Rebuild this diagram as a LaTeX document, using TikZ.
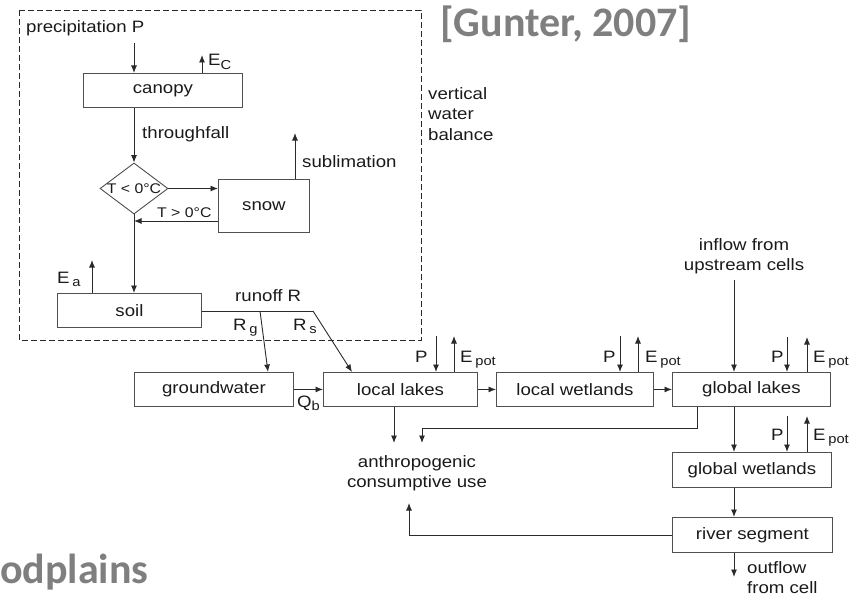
\documentclass[tikz,border=0pt]{standalone}
\usepackage{fontspec}
\setmainfont{Liberation Sans}[FakeStretch=1.13]
\newfontfamily\gfont{Carlito}
\usetikzlibrary{arrows.meta,shapes.geometric}
\definecolor{ln}{HTML}{2A2A2A}
\definecolor{bx}{HTML}{505050}
\definecolor{gr}{HTML}{7F7F7F}
\definecolor{tx}{HTML}{1A1A1A}
\newcommand\sbs[1]{\raisebox{-3.5pt}{\fontsize{13}{13}\selectfont #1}}
\begin{document}
\begin{tikzpicture}[x=1pt,y=-1pt,
  every node/.style={font=\fontsize{16.5}{20.5}\selectfont, text=tx, inner sep=0pt},
  box/.style={draw=bx, line width=0.9pt, anchor=north west, minimum height=34pt},
  arr/.style={draw=ln, line width=0.9pt, -{Latex[length=7.5pt,width=6pt]}},
  plain/.style={draw=ln, line width=0.9pt},
  small/.style={font=\fontsize{14}{14}\selectfont},
  frame/.style={draw=ln, line width=0.9pt, dash pattern=on 6pt off 3pt},
  big/.style={font=\gfont\bfseries\fontsize{42}{42}\selectfont, text=gr}]
\useasboundingbox (0,0) rectangle (860,602);

% dashed frame
\draw[frame] (19,10) rectangle (421,340);

% boxes
\node[box, minimum width=159pt] (canopy) at (83,73) {canopy};
\node[box, minimum width=91pt, minimum height=53pt] (snow) at (218,179) {snow};
\node[box, minimum width=144pt] (soil) at (57,293) {soil};
\node[box, minimum width=159pt] (gw) at (134,372) {groundwater};
\node[box, minimum width=154pt] (lakes) at (323,372) {local lakes};
\node[box, minimum width=157pt] (lwet) at (496,372) {local wetlands};
\node[box, minimum width=158pt] (glakes) at (672,372) {global lakes};
\node[box, minimum width=159pt, minimum height=35pt] (gwet) at (672,452) {global wetlands};
\node[box, minimum width=160pt, minimum height=35pt] (river) at (672,517) {river segment};
\node[draw=bx, line width=0.9pt, diamond, minimum width=68pt, minimum height=51pt, inner sep=0pt] (dia) at (134,188.5) {};
\node[small] (tlt) at (dia.center) {T < 0°C};

% texts
\node[anchor=base west] (prec) at (26,33) {precipitation P};
\node[anchor=base west] (ecl) at (208,66) {E\sbs{C}};
\node[anchor=base west] (tf) at (142,139) {throughfall};
\node[anchor=base west] (subl) at (302,167) {sublimation};
\node[anchor=north west, align=left] (vwb) at (428,87) {vertical\\water\\balance};
\node[small, anchor=base west] (tgt) at (157,217) {T > 0°C};
\node[anchor=base west] (eal) at (57,283) {E\,\sbs{a}};
\node[anchor=base west] (runoff) at (235,301) {runoff R};
\node[anchor=base west] (rgl) at (233,330) {R\,\sbs{g}};
\node[anchor=base west] (rsl) at (293,330) {R\,\sbs{s}};
\node[anchor=base west] (qbl) at (297,407) {Q\sbs{b}};
\node[anchor=base west] (p1) at (415,362) {P};
\node[anchor=base west] (e1) at (460,362) {E\,\sbs{pot}};
\node[anchor=base west] (p2) at (603,362) {P};
\node[anchor=base west] (e2) at (645,362) {E\,\sbs{pot}};
\node[anchor=base west] (p3) at (771,362) {P};
\node[anchor=base west] (e3) at (813,362) {E\,\sbs{pot}};
\node[anchor=base west] (p4) at (771,440) {P};
\node[anchor=base west] (e4) at (813,440) {E\,\sbs{pot}};
\node[anchor=north, align=center] (inflow) at (744,238) {inflow from\\upstream cells};
\node[anchor=north, align=center] (anth) at (417,455) {anthropogenic\\consumptive use};
\node[anchor=north west, align=left] (outl) at (747,561) {outflow\\from cell};
\node[big, anchor=base west] (cite) at (440,37) {[Gunter, 2007]};
\node[big, anchor=base west] (fp) at (0,583) {odplains};

% coordinates for free ends
\coordinate (pP) at (134,43);
\coordinate (ec) at (202,55);
\coordinate (sub) at (295,133);
\coordinate (ea) at (92,260);
\coordinate (ret) at (0,221);
\coordinate (rk) at (313,311);
\coordinate (rg) at (260,311);
\coordinate (rgx) at (268,0);
\coordinate (rsx) at (352,0);
\coordinate (pa1) at (436,336);
\coordinate (ea1) at (454,336);
\coordinate (pa2) at (620,336);
\coordinate (ea2) at (638,336);
\coordinate (pa3) at (787,337);
\coordinate (ea3) at (807,337);
\coordinate (pa4) at (787,416);
\coordinate (ea4) at (807,416);
\coordinate (inx) at (734,280);
\coordinate (a1) at (394,443);
\coordinate (a2) at (422,443);
\coordinate (k) at (697,428);
\coordinate (rvt) at (409,503);
\coordinate (colx) at (734,0);
\coordinate (outx) at (734,577);

% vertical water balance
\draw[arr] (pP) -- (pP |- canopy.north);
\draw[arr] (ec |- canopy.north) -- (ec);
\draw[arr] (canopy.south -| dia.north) -- (dia.north);
\draw[arr] (dia.east) -- (dia.east -| snow.west);
\draw[arr] (snow.west |- ret) -- (dia.center |- ret);
\draw[arr] (sub |- snow.north) -- (sub);
\draw[arr] (dia.south) -- (dia.south |- soil.north);
\draw[arr] (ea |- soil.north) -- (ea);
\draw[plain] (soil.east |- rk) -- (rk);
\draw[arr] (rk) -- (rsx |- lakes.north);
\draw[arr] (rg) -- (rgx |- gw.north);

% horizontal chain
\draw[arr] (gw.east) -- (lakes.west);
\draw[arr] (lakes.east) -- (lwet.west);
\draw[arr] (lwet.east) -- (glakes.west);

% P / E arrows
\draw[arr] (pa1) -- (pa1 |- lakes.north);
\draw[arr] (ea1 |- lakes.north) -- (ea1);
\draw[arr] (pa2) -- (pa2 |- lwet.north);
\draw[arr] (ea2 |- lwet.north) -- (ea2);
\draw[arr] (pa3) -- (pa3 |- glakes.north);
\draw[arr] (ea3 |- glakes.north) -- (ea3);
\draw[arr] (pa4) -- (pa4 |- gwet.north);
\draw[arr] (ea4 |- gwet.north) -- (ea4);

% inflow and downstream
\draw[arr] (inx) -- (inx |- glakes.north);
\draw[arr] (colx |- glakes.south) -- (colx |- gwet.north);
\draw[arr] (colx |- gwet.south) -- (colx |- river.north);
\draw[arr] (colx |- river.south) -- (outx);

% consumptive use
\draw[arr] (a1 |- lakes.south) -- (a1);
\draw[arr] (k |- glakes.south) -- (k) -| (a2);
\draw[arr] (river.west) -- (river.west -| rvt) -- (rvt);
\end{tikzpicture}
\end{document}
